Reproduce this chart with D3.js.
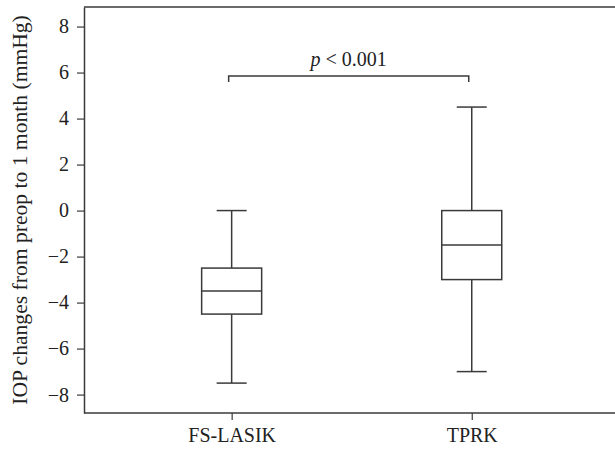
<!DOCTYPE html>
<html>
<head>
<meta charset="utf-8">
<script src="https://cdn.jsdelivr.net/npm/d3@7"></script>
<style>
  html, body { margin: 0; padding: 0; background: #fff; }
  svg { display: block; }
  text { font-family: "Liberation Serif", "Times New Roman", "DejaVu Serif", serif; fill: #222; }
</style>
</head>
<body>
<div id="chart"></div>
<script>

// groups and box statistics (mmHg)
const groups = ["FS-LASIK", "TPRK"]
const whiskerLow = [-7.5, -7.0]
const q1 = [-4.5, -3.0]
const median = [-3.5, -1.5]
const q3 = [-2.5, 0.0]
const whiskerHigh = [0.0, 4.5]

const yTicks = [-8, -6, -4, -2, 0, 2, 4, 6, 8]
const pLabel = "< 0.001"
const bracketLevel = 5.85

const width = 615, height = 451
const margin = {top: 7, right: 0, bottom: 38, left: 84}
const serif = '"Liberation Serif", "Times New Roman", "DejaVu Serif", serif'

const svg = d3.select("#chart").append("svg")
    .attr("width", width)
    .attr("height", height)

const x = d3.scalePoint()
    .domain(groups)
    .range([margin.left, 619.4])
    .padding(0.615)

const y = d3.scaleLinear()
    .domain([-8.8, 8.85])
    .range([height - margin.bottom, margin.top])

const lineColor = "#3a3a3a"

// frame: left, top, bottom (no right edge visible)
svg.append("line")
    .attr("x1", margin.left).attr("x2", width)
    .attr("y1", margin.top).attr("y2", margin.top)
    .attr("stroke", lineColor).attr("stroke-width", 1.5)

const yAxis = svg.append("g")
    .attr("transform", `translate(${margin.left},0)`)
    .call(d3.axisLeft(y).tickValues(yTicks).tickSize(7).tickPadding(8).tickSizeOuter(0))
    .attr("font-family", serif)
yAxis.select(".domain").attr("stroke", lineColor).attr("stroke-width", 1.5)
yAxis.selectAll(".tick line").attr("stroke", lineColor).attr("stroke-width", 1.2)
yAxis.selectAll(".tick text").attr("font-size", 20).attr("fill", "#222")

const xAxis = svg.append("g")
    .attr("transform", `translate(0,${height - margin.bottom})`)
    .call(d3.axisBottom(x).tickSize(7).tickPadding(8).tickSizeOuter(0))
    .attr("font-family", serif)
xAxis.select(".domain").attr("stroke", lineColor).attr("stroke-width", 1.5)
    .attr("d", `M${margin.left},0H${width}`)
xAxis.selectAll(".tick line").attr("stroke", lineColor).attr("stroke-width", 1.2)
xAxis.selectAll(".tick text").attr("font-size", 20).attr("fill", "#222")

// y title
svg.append("text")
    .attr("transform", `translate(27,${(margin.top + height - margin.bottom) / 2}) rotate(-90)`)
    .attr("text-anchor", "middle")
    .attr("font-family", serif)
    .attr("font-size", 21.6)
    .text("IOP changes from preop to 1 month (mmHg)")

// boxes
const boxW = 60, capW = 30
const data = groups.map((g, i) => ({
    g, lo: whiskerLow[i], q1: q1[i], med: median[i], q3: q3[i], hi: whiskerHigh[i]
}))

const box = svg.append("g").selectAll("g")
    .data(data)
    .join("g")
    .attr("stroke", lineColor)
    .attr("stroke-width", 1.5)
    .attr("fill", "none")

box.append("line")
    .attr("x1", d => x(d.g)).attr("x2", d => x(d.g))
    .attr("y1", d => y(d.hi)).attr("y2", d => y(d.q3))
box.append("line")
    .attr("x1", d => x(d.g)).attr("x2", d => x(d.g))
    .attr("y1", d => y(d.q1)).attr("y2", d => y(d.lo))
box.append("line")
    .attr("x1", d => x(d.g) - capW / 2).attr("x2", d => x(d.g) + capW / 2)
    .attr("y1", d => y(d.hi)).attr("y2", d => y(d.hi))
box.append("line")
    .attr("x1", d => x(d.g) - capW / 2).attr("x2", d => x(d.g) + capW / 2)
    .attr("y1", d => y(d.lo)).attr("y2", d => y(d.lo))
box.append("rect")
    .attr("x", d => x(d.g) - boxW / 2)
    .attr("width", boxW)
    .attr("y", d => y(d.q3))
    .attr("height", d => y(d.q1) - y(d.q3))
    .attr("fill", "#fff")
box.append("line")
    .attr("x1", d => x(d.g) - boxW / 2).attr("x2", d => x(d.g) + boxW / 2)
    .attr("y1", d => y(d.med)).attr("y2", d => y(d.med))

// significance bracket
const bx1 = x(groups[0]) - 3, bx2 = x(groups[1]) - 3
const by = y(bracketLevel)
svg.append("path")
    .attr("d", `M${bx1},${by + 6}V${by}H${bx2}V${by + 6}`)
    .attr("fill", "none")
    .attr("stroke", lineColor)
    .attr("stroke-width", 1.5)

const pt = svg.append("text")
    .attr("x", (bx1 + bx2) / 2)
    .attr("y", by - 10)
    .attr("text-anchor", "middle")
    .attr("font-family", serif)
    .attr("font-size", 20)
pt.append("tspan").attr("font-style", "italic").text("p")
pt.append("tspan").text(" " + pLabel)

</script>
</body>
</html>
